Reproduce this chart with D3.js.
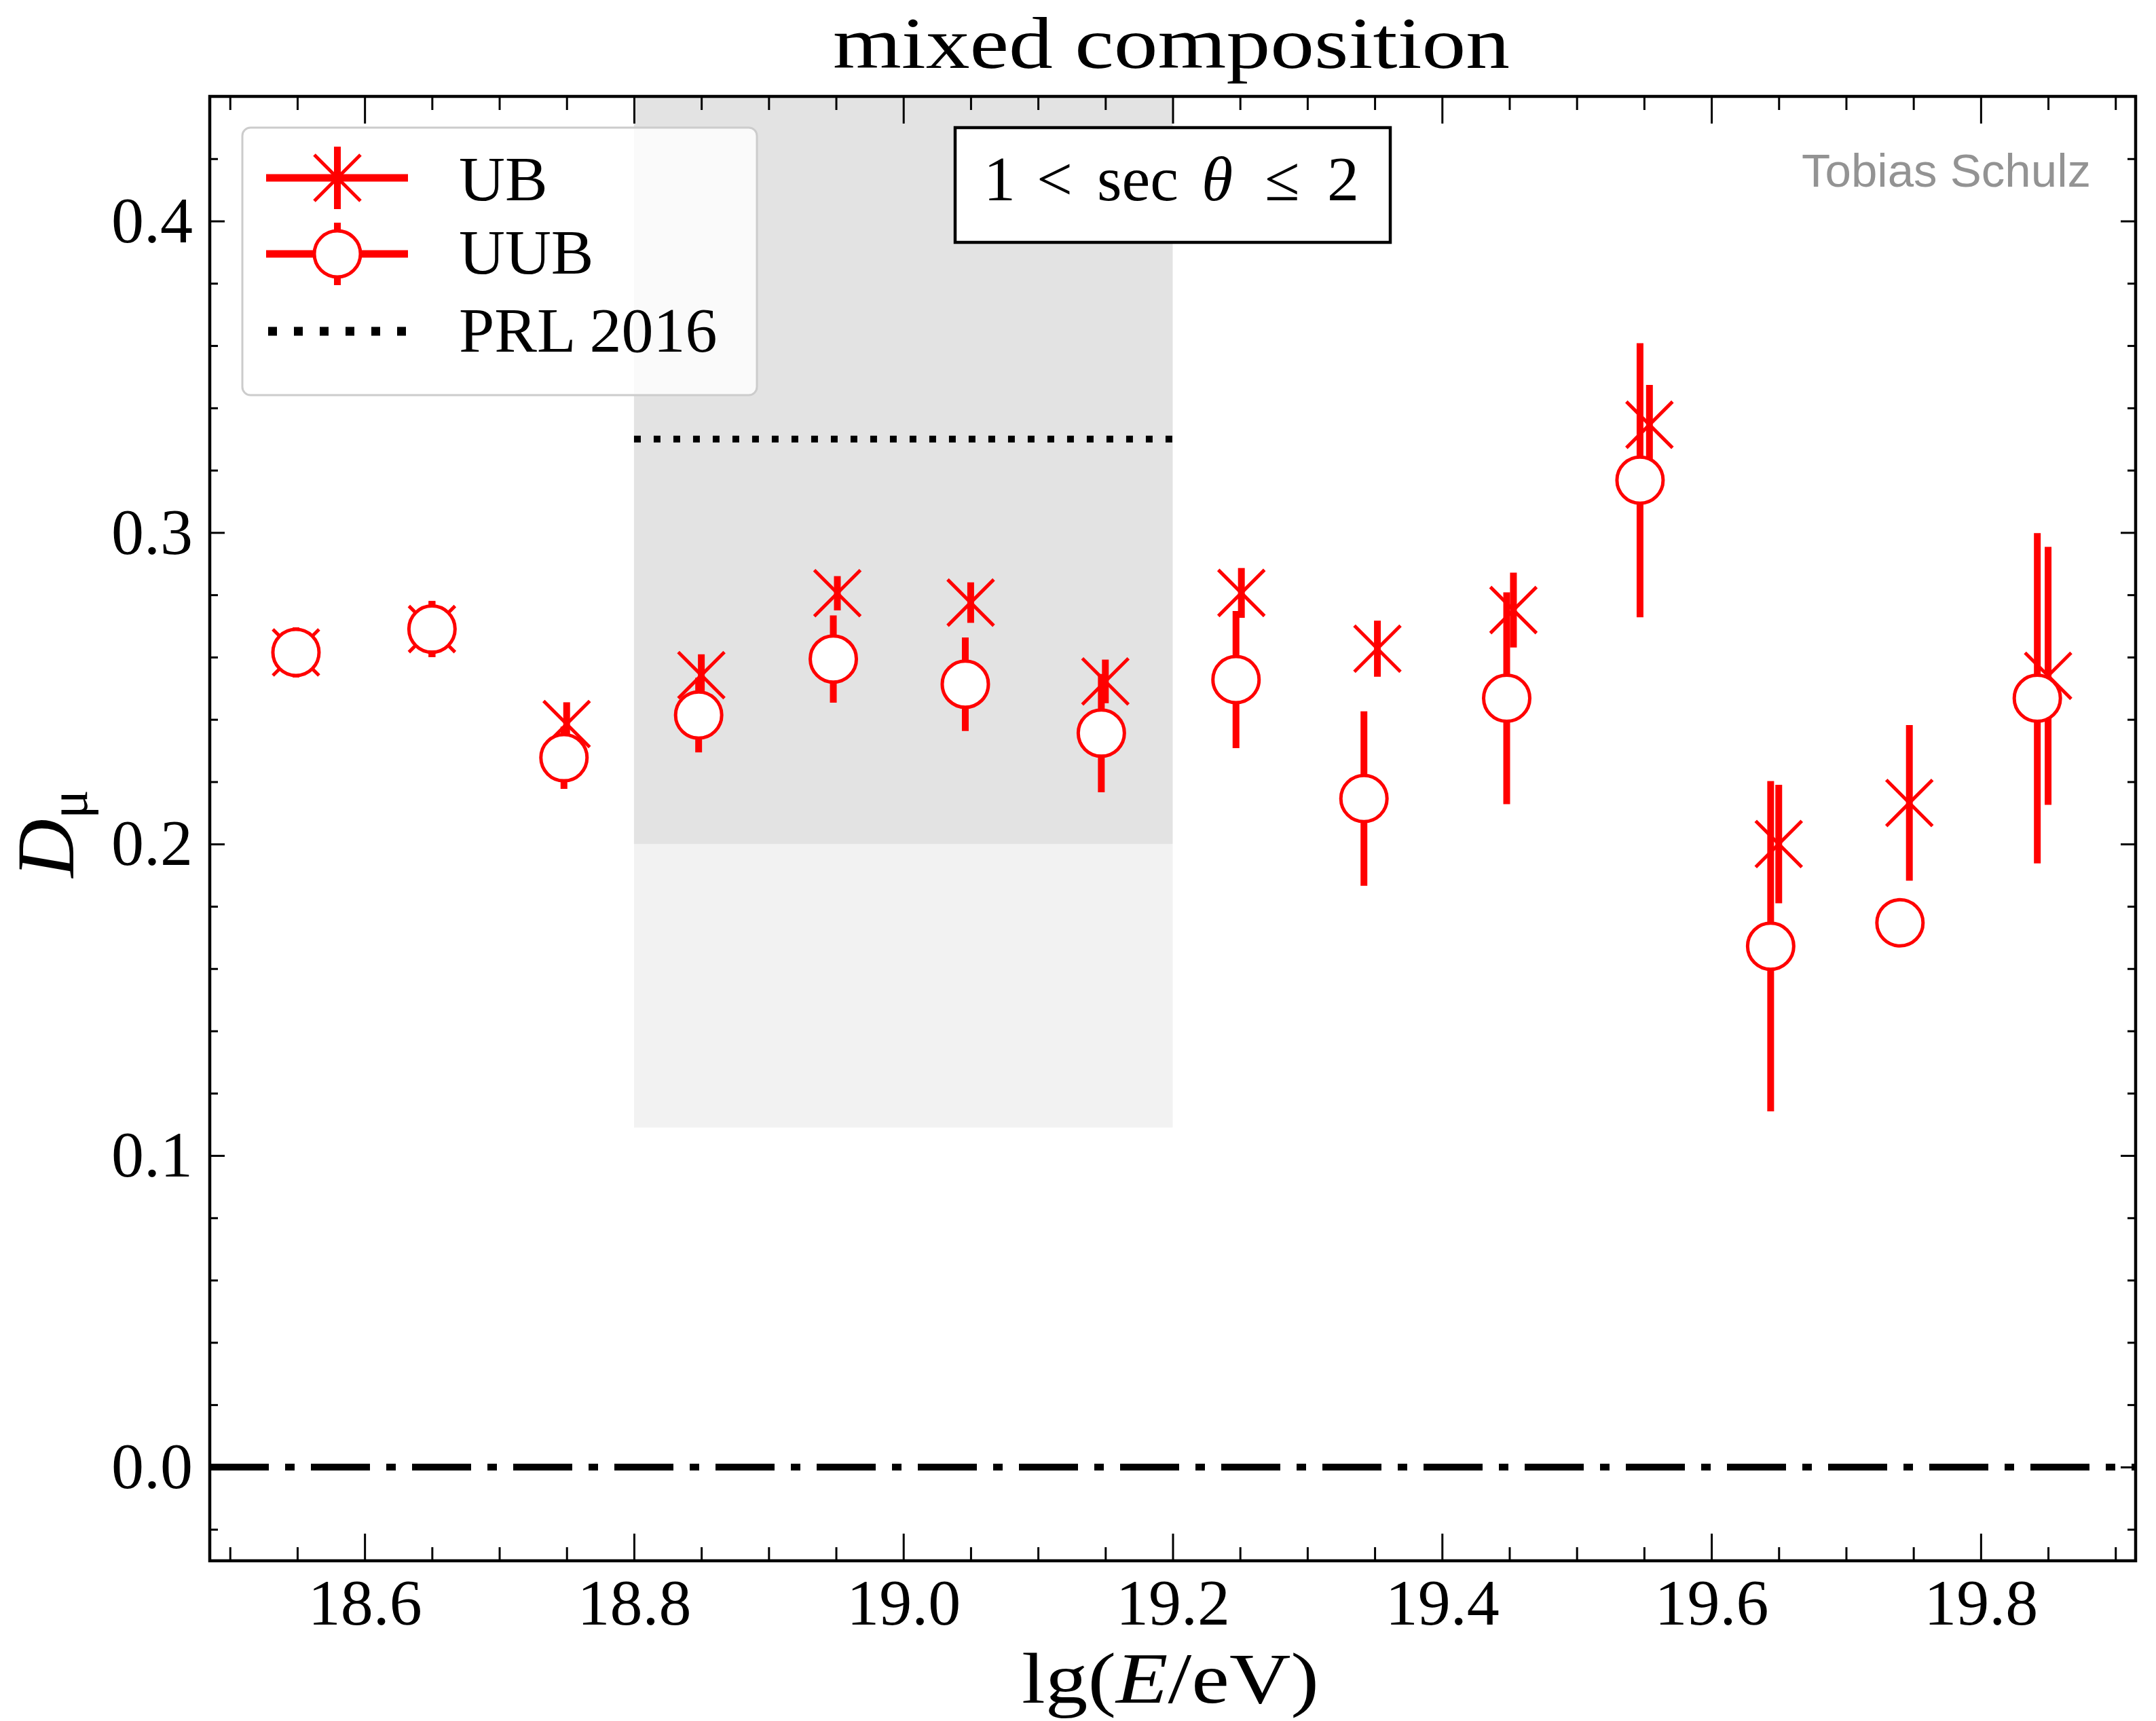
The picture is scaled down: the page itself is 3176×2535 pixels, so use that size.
<!DOCTYPE html>
<html><head><meta charset="utf-8">
<script src="https://cdn.jsdelivr.net/npm/d3@7"></script>
<style>body{margin:0;background:#fff}</style>
</head><body>
<script>
// ---------------- data ----------------
const energyUB  = [18.549, 18.650, 18.750, 18.850, 18.951, 19.050, 19.150, 19.251, 19.352, 19.453, 19.554, 19.650, 19.747, 19.850];
const dmuUB     = [0.2615, 0.2690, 0.2385, 0.2542, 0.2805, 0.2775, 0.2522, 0.2806, 0.2627, 0.2751, 0.3346, 0.2000, 0.2132, 0.2540];
const errUB     = [0.008, 0.009, 0.007, 0.0067, 0.0055, 0.0065, 0.007, 0.008, 0.009, 0.012, 0.0128, 0.019, 0.025, 0.0414];

const energyUUB = [18.549, 18.650, 18.748, 18.848, 18.948, 19.046, 19.147, 19.247, 19.342, 19.448, 19.547, 19.644, 19.740, 19.842];
const dmuUUB    = [0.2615, 0.2690, 0.2277, 0.2414, 0.2594, 0.2513, 0.2356, 0.2528, 0.2146, 0.2468, 0.3168, 0.1672, 0.1747, 0.2468];
const errUUB    = [0.008, 0.009, 0.010, 0.012, 0.014, 0.015, 0.019, 0.022, 0.028, 0.034, 0.044, 0.053, 0.006, 0.053];

const prlValue = 0.33;
const prlRange = [18.8, 19.2];
const bandRange = [18.8, 19.2];
const bandDark  = [0.2, 0.44];
const bandLight = [0.109, 0.2];
const zeroLine = 0.0;

const xMajorTicks = [18.6, 18.8, 19.0, 19.2, 19.4, 19.6, 19.8];
const yMajorTicks = [0.0, 0.1, 0.2, 0.3, 0.4];
const xMinorTicks = [18.5,18.55,18.65,18.7,18.75,18.85,18.9,18.95,19.05,19.1,19.15,19.25,19.3,19.35,19.45,19.5,19.55,19.65,19.7,19.75,19.85,19.9];
const yMinorTicks = [-0.02,0.02,0.04,0.06,0.08,0.12,0.14,0.16,0.18,0.22,0.24,0.26,0.28,0.32,0.34,0.36,0.38,0.42];

const legendLabels = ["UB", "UUB", "PRL 2016"];
const titleText = "mixed composition";
const watermark = "Tobias Schulz";

// ---------------- layout ----------------
const W = 3176, H = 2535;
const L = 309, R = 3146, T = 142, B = 2299;
const RED = "#ff0000";
const SERIF = "'Liberation Serif', 'Times New Roman', serif";

const svg = d3.select("body").append("svg").attr("width", W).attr("height", H)
  .style("display","block").style("background","#fff");

const x = d3.scaleLinear().domain([18.485, 19.915]).range([L, R]);
const y = d3.scaleLinear().domain([-0.0301, 0.44]).range([B, T]);

const defs = svg.append("defs");
defs.append("clipPath").attr("id","plotclip").append("rect")
  .attr("x", L).attr("y", T).attr("width", R-L).attr("height", B-T);

const plot = svg.append("g").attr("clip-path","url(#plotclip)");

// shaded bands
plot.append("rect")
  .attr("x", x(bandRange[0])).attr("width", x(bandRange[1]) - x(bandRange[0]))
  .attr("y", y(bandLight[1])).attr("height", y(bandLight[0]) - y(bandLight[1]))
  .attr("fill", "#f2f2f2");
plot.append("rect")
  .attr("x", x(bandRange[0])).attr("width", x(bandRange[1]) - x(bandRange[0]))
  .attr("y", y(bandDark[1])).attr("height", y(bandDark[0]) - y(bandDark[1]))
  .attr("fill", "#e3e3e3");

// PRL 2016 dotted line
plot.append("line")
  .attr("x1", x(prlRange[0])).attr("x2", x(prlRange[1]))
  .attr("y1", y(prlValue)).attr("y2", y(prlValue))
  .attr("stroke", "#000").attr("stroke-width", 10).attr("stroke-dasharray", "10 19");

// zero dash-dot line
plot.append("line")
  .attr("x1", x.range()[0]).attr("x2", x.range()[1])
  .attr("y1", y(zeroLine)).attr("y2", y(zeroLine))
  .attr("stroke", "#000").attr("stroke-width", 10).attr("stroke-dasharray", "87 24 14 24");

// ---------------- data series ----------------
const ub = energyUB.map((e,i)=>({e, v: dmuUB[i], err: errUB[i]}));
const uub = energyUUB.map((e,i)=>({e, v: dmuUUB[i], err: errUUB[i]}));
const S = 34;

const gUB = plot.append("g");
gUB.selectAll("line.err").data(ub).join("line").attr("class","err")
  .attr("x1", d=>x(d.e)).attr("x2", d=>x(d.e))
  .attr("y1", d=>y(d.v+d.err)).attr("y2", d=>y(d.v-d.err))
  .attr("stroke", RED).attr("stroke-width", 10);
gUB.selectAll("path.mk").data(ub).join("path").attr("class","mk")
  .attr("transform", d=>`translate(${x(d.e)},${y(d.v)})`)
  .attr("d", `M${-S},${-S}L${S},${S}M${-S},${S}L${S},${-S}`)
  .attr("stroke", RED).attr("stroke-width", 5).attr("fill","none");

const gUUB = plot.append("g");
gUUB.selectAll("line.err").data(uub).join("line").attr("class","err")
  .attr("x1", d=>x(d.e)).attr("x2", d=>x(d.e))
  .attr("y1", d=>y(d.v+d.err)).attr("y2", d=>y(d.v-d.err))
  .attr("stroke", RED).attr("stroke-width", 10);
gUUB.selectAll("circle").data(uub).join("circle")
  .attr("cx", d=>x(d.e)).attr("cy", d=>y(d.v)).attr("r", S)
  .attr("fill", "#fff").attr("stroke", RED).attr("stroke-width", 5);

// ---------------- axes ----------------
function styleAxis(g, fs){
  g.select(".domain").remove();
  g.selectAll(".tick line").attr("stroke","#000").attr("stroke-width",3);
  g.selectAll(".tick text").attr("font-family", SERIF).attr("font-size", fs).attr("fill","#000");
}
const fmt = d3.format(".1f");
svg.append("g").attr("transform",`translate(0,${B})`)
  .call(d3.axisBottom(x).tickValues(xMajorTicks).tickSize(-40).tickPadding(26).tickFormat(fmt))
  .call(g=>styleAxis(g, 96));
svg.append("g").attr("transform",`translate(0,${B})`)
  .call(d3.axisBottom(x).tickValues(xMinorTicks).tickSize(-20).tickFormat(""))
  .call(g=>styleAxis(g, 96));
svg.append("g").attr("transform",`translate(0,${T})`)
  .call(d3.axisTop(x).tickValues(xMajorTicks).tickSize(-40).tickFormat(""))
  .call(g=>styleAxis(g, 96));
svg.append("g").attr("transform",`translate(0,${T})`)
  .call(d3.axisTop(x).tickValues(xMinorTicks).tickSize(-20).tickFormat(""))
  .call(g=>styleAxis(g, 96));
svg.append("g").attr("transform",`translate(${L},0)`)
  .call(d3.axisLeft(y).tickValues(yMajorTicks).tickSize(-22).tickPadding(25).tickFormat(fmt))
  .call(g=>styleAxis(g, 96));
svg.append("g").attr("transform",`translate(${L},0)`)
  .call(d3.axisLeft(y).tickValues(yMinorTicks).tickSize(-12).tickFormat(""))
  .call(g=>styleAxis(g, 96));
svg.append("g").attr("transform",`translate(${R},0)`)
  .call(d3.axisRight(y).tickValues(yMajorTicks).tickSize(-22).tickFormat(""))
  .call(g=>styleAxis(g, 96));
svg.append("g").attr("transform",`translate(${R},0)`)
  .call(d3.axisRight(y).tickValues(yMinorTicks).tickSize(-12).tickFormat(""))
  .call(g=>styleAxis(g, 96));

// frame
svg.append("rect").attr("x",L).attr("y",T).attr("width",R-L).attr("height",B-T)
  .attr("fill","none").attr("stroke","#000").attr("stroke-width",4.5);

// ---------------- legend ----------------
const lg = svg.append("g");
lg.append("rect").attr("x",357).attr("y",188).attr("width",758).attr("height",394).attr("rx",12)
  .attr("fill","#fff").attr("fill-opacity",0.8).attr("stroke","#cccccc").attr("stroke-width",3);
const hx0 = 392, hx1 = 601, hxc = 497;
const rows = [262, 374, 488];
// UB
lg.append("line").attr("x1",hx0).attr("x2",hx1).attr("y1",rows[0]).attr("y2",rows[0]).attr("stroke",RED).attr("stroke-width",11);
lg.append("line").attr("x1",hxc).attr("x2",hxc).attr("y1",rows[0]-46).attr("y2",rows[0]+46).attr("stroke",RED).attr("stroke-width",10);
lg.append("path").attr("transform",`translate(${hxc},${rows[0]})`)
  .attr("d", `M${-S},${-S}L${S},${S}M${-S},${S}L${S},${-S}`).attr("stroke",RED).attr("stroke-width",5);
// UUB
lg.append("line").attr("x1",hx0).attr("x2",hx1).attr("y1",rows[1]).attr("y2",rows[1]).attr("stroke",RED).attr("stroke-width",11);
lg.append("line").attr("x1",hxc).attr("x2",hxc).attr("y1",rows[1]-46).attr("y2",rows[1]+46).attr("stroke",RED).attr("stroke-width",10);
lg.append("circle").attr("cx",hxc).attr("cy",rows[1]).attr("r",S).attr("fill","#fff").attr("stroke",RED).attr("stroke-width",5);
// PRL
lg.append("line").attr("x1",395).attr("x2",600).attr("y1",rows[2]).attr("y2",rows[2])
  .attr("stroke","#000").attr("stroke-width",13).attr("stroke-dasharray","13 25");
const textBase = [295, 403, 518];
legendLabels.forEach((t,i)=>{
  lg.append("text").attr("x",676).attr("y",textBase[i]).text(t)
    .attr("font-family",SERIF).attr("font-size",94).attr("fill","#000");
});

// ---------------- annotation box ----------------
svg.append("rect").attr("x",1407).attr("y",188).attr("width",641).attr("height",169)
  .attr("fill","#fff").attr("stroke","#000").attr("stroke-width",4.5);
const ann = svg.append("text").attr("y",295).attr("font-family",SERIF).attr("font-size",94).attr("fill","#000");
ann.append("tspan").attr("x",1449).text("1");
ann.append("tspan").attr("x",1527).text("<");
ann.append("tspan").attr("x",1616).text("sec");
ann.append("tspan").attr("x",1770).attr("font-style","italic").text("θ");
ann.append("tspan").attr("x",1863).text("≤");
ann.append("tspan").attr("x",1955).text("2");

// ---------------- titles ----------------
svg.append("text").attr("x",1227).attr("y",100).text(titleText)
  .attr("font-family",SERIF).attr("font-size",108).attr("fill","#000")
  .attr("textLength",997).attr("lengthAdjust","spacingAndGlyphs");

const xl = svg.append("text").attr("x",1505).attr("y",2508)
  .attr("font-family",SERIF).attr("font-size",105).attr("fill","#000")
  .attr("textLength",438).attr("lengthAdjust","spacingAndGlyphs");
xl.append("tspan").text("lg(");
xl.append("tspan").attr("font-style","italic").text("E");
xl.append("tspan").text("/eV)");

const yl = svg.append("text").attr("transform","translate(108,1228) rotate(-90)")
  .attr("text-anchor","middle").attr("font-family",SERIF).attr("fill","#000");
yl.append("tspan").attr("font-size",120).attr("font-style","italic").text("D");
yl.append("tspan").attr("font-size",80).attr("dy",20).text("μ");

svg.append("text").attr("x",2654).attr("y",275).text(watermark)
  .attr("font-family","'Liberation Sans', Arial, sans-serif").attr("font-size",68).attr("fill","#939393")
  .attr("textLength",426).attr("lengthAdjust","spacingAndGlyphs");
</script></body></html>
